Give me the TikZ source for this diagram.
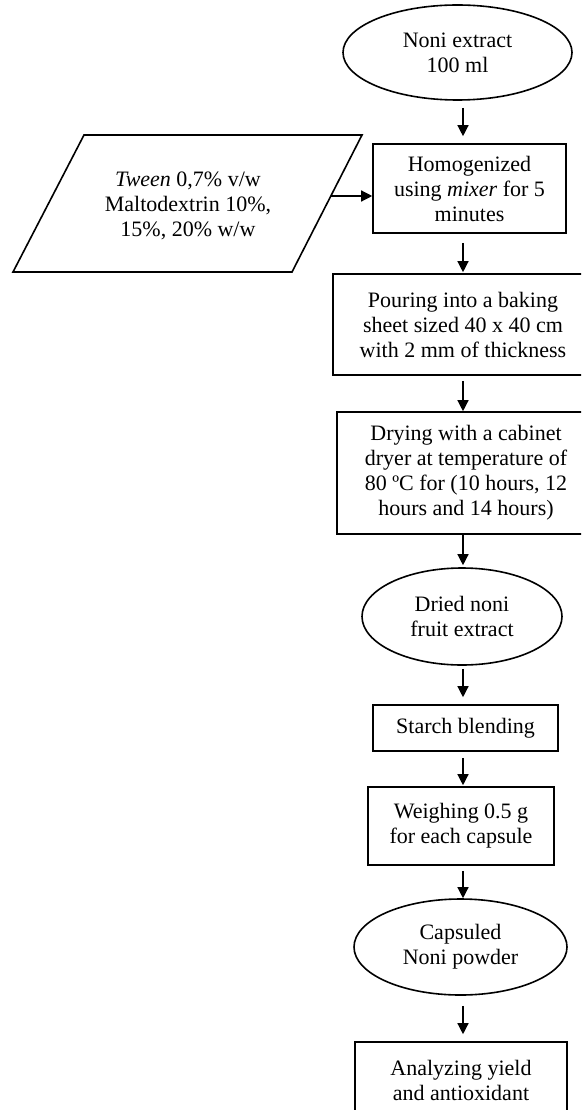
\documentclass[tikz,border=0pt]{standalone}
\usepackage{fontspec}
\setmainfont{Liberation Serif}
\usetikzlibrary{shapes.geometric,arrows.meta}
\begin{document}
\begin{tikzpicture}[x=1pt,y=-1pt,
  every node/.style={font=\fontsize{22}{25}\selectfont, align=center, inner sep=0pt},
  boxnode/.style={draw, line width=1.6pt, rectangle},
  ovalnode/.style={draw, line width=1.6pt, ellipse},
  arr/.style={line width=1.3pt, -{Triangle[length=11pt,width=11pt]}}]
\useasboundingbox (0,0) rectangle (581,1110);
\clip (0,0) rectangle (581,1110);

\node[ovalnode, minimum width=229pt, minimum height=95pt] (n1) at (457.5,52.5) {Noni extract\\100 ml};
\node[boxnode, minimum width=193pt, minimum height=89pt] (n2) at (469.5,188.5) {Homogenized\\using \emph{mixer} for 5\\minutes};
\draw[line width=1.6pt] (84,135) -- (362,135) -- (292,272) -- (13,272) -- cycle;
\node (par) at (188,206) {\emph{Tween} 0,7\% v/w\\Maltodextrin 10\%,\\15\%, 20\% w/w};
\coordinate (parR) at (331,196);
\node[boxnode, minimum width=260pt, minimum height=101pt] (n3) at (463,324.5) {Pouring into a baking\\sheet sized 40 x 40 cm\\with 2 mm of thickness};
\node[boxnode, minimum width=258pt, minimum height=122pt] (n4) at (466,473) {Drying with a cabinet\\dryer at temperature of\\80 ºC for (10 hours, 12\\hours and 14 hours)};
\node[ovalnode, minimum width=200pt, minimum height=97pt] (n5) at (462,616.5) {Dried noni\\fruit extract};
\node[boxnode, minimum width=185pt, minimum height=46pt] (n6) at (465.5,728) {Starch blending};
\node[boxnode, minimum width=186pt, minimum height=78pt] (n7) at (461,826) {Weighing 0.5 g\\for each capsule};
\node[ovalnode, minimum width=213pt, minimum height=96pt] (n8) at (460.5,947) {Capsuled\\Noni powder};
\node[boxnode, minimum width=212pt, minimum height=77pt] (n9) at (461,1080.5) {Analyzing yield\\and antioxidant};

\coordinate (ax) at (463,0);
\draw[arr] (parR) -- (parR -| n2.west);
\draw[arr, shorten <=7pt, shorten >=7pt] (n1.south -| ax) -- (n2.north -| ax);
\draw[arr, shorten <=9pt, shorten >=1pt] (n2.south -| ax) -- (n3.north -| ax);
\draw[arr, shorten <=5pt] (n3.south -| ax) -- (n4.north -| ax);
\draw[arr, shorten >=2pt] (n4.south -| ax) -- (n5.north -| ax);
\draw[arr, shorten <=3pt, shorten >=7pt] (n5.south -| ax) -- (n6.north -| ax);
\draw[arr, shorten <=6pt, shorten >=1pt] (n6.south -| ax) -- (n7.north -| ax);
\draw[arr, shorten <=5pt] (n7.south -| ax) -- (n8.north -| ax);
\draw[arr, shorten <=10pt, shorten >=7pt] (n8.south -| ax) -- (n9.north -| ax);
\end{tikzpicture}
\end{document}
